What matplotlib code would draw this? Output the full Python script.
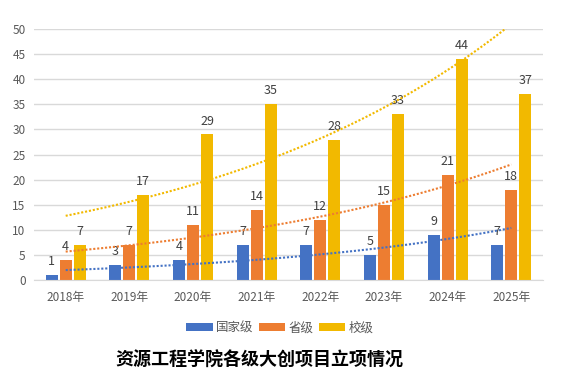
import numpy as np
import matplotlib.pyplot as plt

plt.rcParams['font.family'] = ['Noto Sans CJK SC', 'DejaVu Sans']

years = ["2018年", "2019年", "2020年", "2021年", "2022年", "2023年", "2024年", "2025年"]
national = [1, 3, 4, 7, 7, 5, 9, 7]
provincial = [4, 7, 11, 14, 12, 15, 21, 18]
school = [7, 17, 29, 35, 28, 33, 44, 37]

series = [("国家级", national, "#4472C4"),
          ("省级", provincial, "#ED7D31"),
          ("校级", school, "#F2B900")]

fig = plt.figure(figsize=(5.64, 3.77), dpi=100)
ax = fig.add_axes([0.060, 0.257, 0.903, 0.666])

x = np.arange(len(years))
width = 0.185
step = 0.22

for i, (name, vals, color) in enumerate(series):
    pos = x + (i - 1) * step
    ax.bar(pos, vals, width, color=color, label=name, zorder=2)
    for p, v in zip(pos, vals):
        ax.annotate(str(v), (p, v), xytext=(0, 5), textcoords="offset points",
                    ha="center", va="bottom", fontsize=9, color="#404040")

# exponential trendlines (like Excel)
for name, vals, color in series:
    k, b = np.polyfit(x, np.log(vals), 1)
    xt = np.linspace(0, 7, 100)
    ax.plot(xt, np.exp(b + k * xt), linestyle=(0, (1, 0.9)), color=color,
            linewidth=1.5, zorder=3)

ax.set_xlim(-0.5, 7.5)
ax.set_ylim(0, 50)
ax.set_yticks(range(0, 51, 5))
ax.set_xticks(x)
ax.set_xticklabels(years)
ax.tick_params(axis="both", length=0, labelsize=8.5, colors="#595959")
ax.tick_params(axis="x", pad=8)
ax.tick_params(axis="y", pad=6)
ax.grid(axis="y", color="#D9D9D9", linewidth=1, zorder=0)
ax.set_axisbelow(True)
for s in ["top", "right", "left"]:
    ax.spines[s].set_visible(False)
ax.spines["bottom"].set_color("#D9D9D9")

ax.legend(loc="center", bbox_to_anchor=(0.483, -0.19), ncol=3, frameon=False,
          fontsize=9, handlelength=2.15, handleheight=0.55, columnspacing=0.4,
          handletextpad=0.25, labelcolor="#595959")

fig.text(0.46, 0.045, "资源工程学院各级大创项目立项情况", ha="center", va="center",
         fontsize=13, fontweight="bold", color="black")

fig.savefig("out.png", dpi=100, facecolor="white")
